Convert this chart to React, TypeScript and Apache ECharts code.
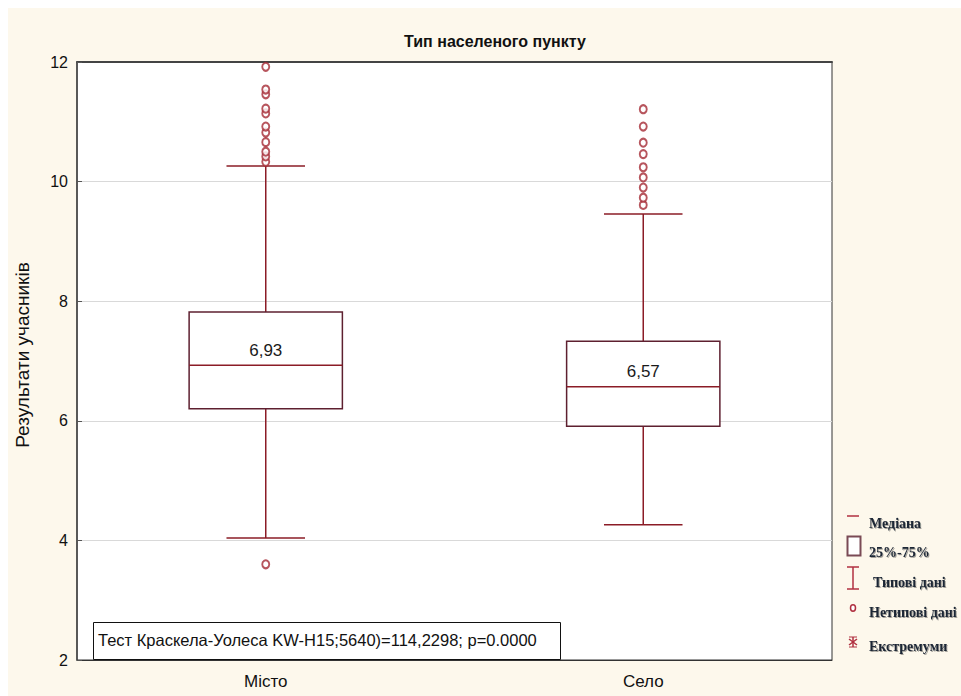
import React, { useEffect, useRef } from "react";
import * as echarts from "echarts";

const categories = ["Місто", "Село"];
// [lower whisker, q1, median, q3, upper whisker]
const boxStats = [
  [4.04, 6.2, 6.93, 7.82, 10.26],
  [4.26, 5.91, 6.57, 7.33, 9.46],
];
const medianLabels = ["6,93", "6,57"];
const outliersCity = [3.6, 10.33, 10.42, 10.5, 10.66, 10.82, 10.92, 11.14, 11.22, 11.46, 11.54, 11.92];
const outliersVillage = [9.61, 9.73, 9.9, 10.07, 10.24, 10.46, 10.65, 10.92, 11.21];
const yMin = 2;
const yMax = 12;
const yStep = 2;
const title = "Тип населеного пункту";
const yName = "Результати учасників";
const testText = "Тест Краскела-Уолеса KW-H15;5640)=114,2298; p=0.0000";
const legendItems = ["Медіана", "25%-75%", "Типові дані", "Нетипові дані", "Екстремуми"];

const WHISKER = "#8b1c26";
const BOXLINE = "#5e2030";
const NARROW = "'Liberation Sans Narrow', 'Arial Narrow', Arial, sans-serif";
const SANS = "Arial, 'Liberation Sans', sans-serif";
const SERIF = "'Times New Roman', 'Liberation Serif', serif";

export default function App() {
  const ref = useRef<HTMLDivElement>(null);
  useEffect(() => {
    if (!ref.current) return;
    const chart = echarts.init(ref.current, null, { renderer: "svg" });
    const legendText = (text: string, x: number, y: number) => ({
      type: "text",
      x,
      y,
      style: {
        text,
        fill: "#1e2836",
        font: `bold 14px ${SERIF}`,
        verticalAlign: "middle",
        textShadowColor: "rgba(0,0,0,0.35)",
        textShadowBlur: 1,
        textShadowOffsetX: 1,
        textShadowOffsetY: 1,
      },
    });
    chart.setOption({
      animation: false,
      backgroundColor: "#fdf8ec",
      grid: {
        left: 69,
        top: 54,
        width: 755,
        height: 598,
        show: true,
        backgroundColor: "#ffffff",
        borderColor: "#333",
        borderWidth: 1,
      },
      xAxis: [
        {
          type: "category",
          data: categories,
          axisLine: { lineStyle: { color: "#333" } },
          axisTick: { inside: true, alignWithLabel: true, length: 4, lineStyle: { color: "#333" } },
          axisLabel: { fontSize: 17, color: "#111", margin: 13, fontFamily: SANS },
          splitLine: { show: false },
        },
        {
          type: "category",
          position: "top",
          data: categories,
          axisLine: { lineStyle: { color: "#444", width: 2 } },
          axisTick: { inside: true, alignWithLabel: true, length: 4, lineStyle: { color: "#333" } },
          axisLabel: { show: false },
        },
      ],
      yAxis: {
        type: "value",
        min: yMin,
        max: yMax,
        interval: yStep,
        axisLine: { show: true, lineStyle: { color: "#444", width: 1.5 } },
        axisTick: { show: true, inside: true, length: 5, lineStyle: { color: "#555" } },
        axisLabel: { fontSize: 16, color: "#111", margin: 9, fontFamily: SANS },
        splitLine: { show: true, lineStyle: { color: "#d9d9d9", width: 1 } },
      },
      series: [
        {
          type: "custom",
          data: boxStats.map((s, i) => [i, ...s]),
          renderItem: (params: any, api: any) => {
            const idx = api.value(0);
            const lo = api.coord([idx, api.value(1)]);
            const q1 = api.coord([idx, api.value(2)]);
            const med = api.coord([idx, api.value(3)]);
            const q3 = api.coord([idx, api.value(4)]);
            const hi = api.coord([idx, api.value(5)]);
            const bw = api.size([1, 0])[0];
            const half = bw * 0.203;
            const cap = bw * 0.104;
            const x = med[0];
            const ls = { stroke: WHISKER, lineWidth: 1.5 };
            return {
              type: "group",
              children: [
                { type: "line", shape: { x1: x, y1: hi[1], x2: x, y2: q3[1] }, style: ls },
                { type: "line", shape: { x1: x, y1: q1[1], x2: x, y2: lo[1] }, style: ls },
                { type: "line", shape: { x1: x - cap, y1: hi[1], x2: x + cap, y2: hi[1] }, style: ls },
                { type: "line", shape: { x1: x - cap, y1: lo[1], x2: x + cap, y2: lo[1] }, style: ls },
                {
                  type: "rect",
                  shape: { x: x - half, y: q3[1], width: half * 2, height: q1[1] - q3[1] },
                  style: { fill: "#fff", stroke: BOXLINE, lineWidth: 1.5 },
                },
                { type: "line", shape: { x1: x - half, y1: med[1], x2: x + half, y2: med[1] }, style: ls },
                {
                  type: "text",
                  x,
                  y: med[1] - 15,
                  style: {
                    text: medianLabels[idx],
                    fill: "#1a1a1a",
                    font: `17px ${SANS}`,
                    align: "center",
                    verticalAlign: "middle",
                  },
                },
              ],
            };
          },
          z: 2,
        },
        {
          type: "scatter",
          symbol: "emptyCircle",
          symbolSize: [7, 8],
          itemStyle: { color: "#a52a35", borderColor: "#a52a35", borderWidth: 1.3 },
          data: [
            ...outliersCity.map((v) => [0, v]),
            ...outliersVillage.map((v) => [1, v]),
          ],
          z: 3,
        },
      ],
      graphic: [
        {
          type: "text",
          x: 487,
          y: 33,
          style: { text: title, font: `bold 16px ${NARROW}`, fill: "#111", align: "center", verticalAlign: "middle" },
        },
        {
          type: "text",
          x: 14,
          y: 347,
          rotation: Math.PI / 2,
          style: { text: yName, font: `19px ${SANS}`, fill: "#111", align: "center", verticalAlign: "middle" },
        },
        {
          type: "rect",
          shape: { x: 85.5, y: 614.5, width: 467, height: 37 },
          style: { fill: "#fff", stroke: "#111", lineWidth: 1 },
          z: 10,
        },
        {
          type: "text",
          x: 90,
          y: 632,
          z: 11,
          style: { text: testText, font: `16.5px ${NARROW}`, fill: "#111", verticalAlign: "middle" },
        },
        // legend
        { type: "line", shape: { x1: 839, y1: 508, x2: 851, y2: 508 }, style: { stroke: "#b03040", lineWidth: 1.5 } },
        legendText(legendItems[0], 861, 515),
        {
          type: "rect",
          shape: { x: 839.5, y: 528.5, width: 13, height: 19 },
          style: { fill: "#fff", stroke: "#7a4a55", lineWidth: 2 },
        },
        legendText(legendItems[1], 861, 544),
        { type: "line", shape: { x1: 845, y1: 559, x2: 845, y2: 581 }, style: { stroke: "#b03040", lineWidth: 1.5 } },
        { type: "line", shape: { x1: 839, y1: 559, x2: 851, y2: 559 }, style: { stroke: "#b03040", lineWidth: 1.5 } },
        { type: "line", shape: { x1: 839, y1: 581, x2: 851, y2: 581 }, style: { stroke: "#b03040", lineWidth: 1.5 } },
        legendText(legendItems[2], 865, 574),
        {
          type: "ellipse",
          shape: { cx: 845, cy: 600, rx: 2.5, ry: 3.2 },
          style: { fill: "#fff", stroke: "#b03040", lineWidth: 1.5 },
        },
        legendText(legendItems[3], 861, 604),
        {
          type: "group",
          children: [
            { type: "line", shape: { x1: 845, y1: 629, x2: 845, y2: 639 }, style: { stroke: "#b03040", lineWidth: 1.5 } },
            { type: "line", shape: { x1: 841, y1: 631, x2: 849, y2: 637 }, style: { stroke: "#b03040", lineWidth: 1.5 } },
            { type: "line", shape: { x1: 849, y1: 631, x2: 841, y2: 637 }, style: { stroke: "#b03040", lineWidth: 1.5 } },
            { type: "line", shape: { x1: 841, y1: 629, x2: 849, y2: 629 }, style: { stroke: "#b03040", lineWidth: 1 } },
            { type: "line", shape: { x1: 841, y1: 639, x2: 849, y2: 639 }, style: { stroke: "#b03040", lineWidth: 1 } },
          ],
        },
        legendText(legendItems[4], 861, 638),
      ],
    });
    return () => chart.dispose();
  }, []);
  return (
    <div
      ref={ref}
      style={{ position: "absolute", left: 8, top: 8, width: 953, height: 688 }}
    />
  );
}
